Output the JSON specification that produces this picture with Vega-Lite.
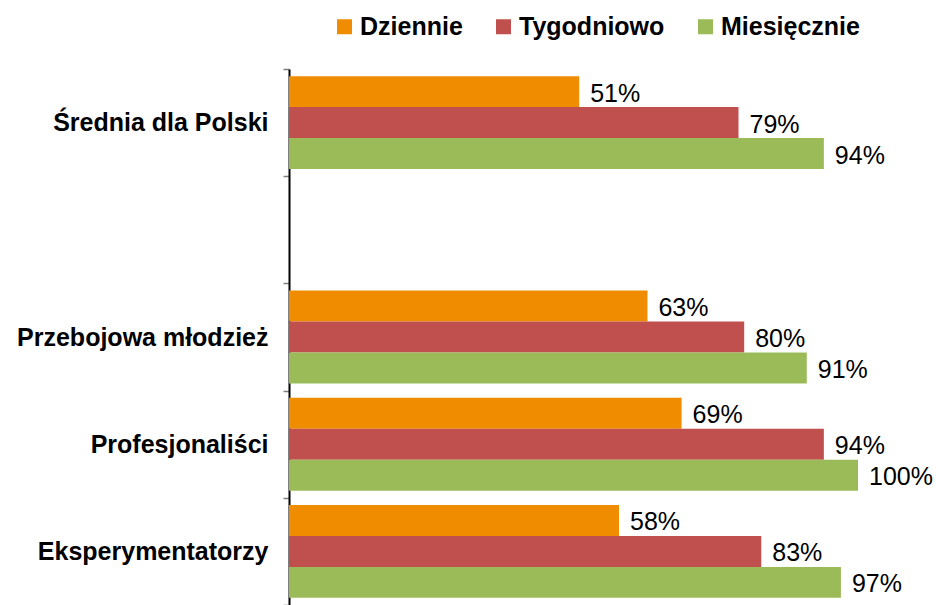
{
  "$schema": "https://vega.github.io/schema/vega-lite/v6.json",
  "autosize": "none",
  "width": 569,
  "height": 536,
  "padding": {"left": 289, "top": 69, "right": 78, "bottom": 0},
  "background": "white",
  "data": {
    "values": [
      {"group": "Średnia dla Polski", "series": "Dziennie", "value": 0.51},
      {"group": "Średnia dla Polski", "series": "Tygodniowo", "value": 0.79},
      {"group": "Średnia dla Polski", "series": "Miesięcznie", "value": 0.94},
      {"group": "Przebojowa młodzież", "series": "Dziennie", "value": 0.63},
      {"group": "Przebojowa młodzież", "series": "Tygodniowo", "value": 0.80},
      {"group": "Przebojowa młodzież", "series": "Miesięcznie", "value": 0.91},
      {"group": "Profesjonaliści", "series": "Dziennie", "value": 0.69},
      {"group": "Profesjonaliści", "series": "Tygodniowo", "value": 0.94},
      {"group": "Profesjonaliści", "series": "Miesięcznie", "value": 1.00},
      {"group": "Eksperymentatorzy", "series": "Dziennie", "value": 0.58},
      {"group": "Eksperymentatorzy", "series": "Tygodniowo", "value": 0.83},
      {"group": "Eksperymentatorzy", "series": "Miesięcznie", "value": 0.97}
    ]
  },
  "encoding": {
    "y": {
      "field": "group",
      "type": "nominal",
      "scale": {
        "domain": ["Średnia dla Polski", " ", "Przebojowa młodzież", "Profesjonaliści", "Eksperymentatorzy"],
        "paddingInner": 0,
        "paddingOuter": 0
      },
      "axis": {
        "title": null,
        "labelFont": "Liberation Sans",
        "labelFontWeight": "bold",
        "labelFontSize": 25,
        "labelColor": "black",
        "labelPadding": 15,
        "labelLimit": 400,
        "tickBand": "extent",
        "tickSize": 6,
        "tickColor": "#7f7f7f",
        "tickWidth": 1.5,
        "domainColor": "black",
        "domainWidth": 2
      }
    },
    "yOffset": {
      "field": "series",
      "type": "nominal",
      "scale": {
        "domain": ["Dziennie", "Tygodniowo", "Miesięcznie"],
        "paddingInner": 0,
        "paddingOuter": 0.23
      }
    },
    "x": {
      "field": "value",
      "type": "quantitative",
      "scale": {"domain": [0, 1], "nice": false},
      "axis": null
    }
  },
  "layer": [
    {
      "mark": {"type": "bar"},
      "encoding": {
        "color": {
          "field": "series",
          "type": "nominal",
          "scale": {
            "domain": ["Dziennie", "Tygodniowo", "Miesięcznie"],
            "range": ["#F08C00", "#C0504D", "#9BBB59"]
          },
          "legend": {
            "title": null,
            "orient": "none",
            "direction": "horizontal",
            "legendX": 43,
            "legendY": -55,
            "symbolType": "square",
            "symbolSize": 225,
            "symbolStrokeWidth": 0,
            "symbolOpacity": 1,
            "labelFont": "Liberation Sans",
            "labelFontWeight": "bold",
            "labelFontSize": 25,
            "labelColor": "black",
            "labelOffset": 3,
            "columnPadding": 28,
            "labelLimit": 400
          }
        }
      }
    },
    {
      "mark": {
        "type": "text",
        "align": "left",
        "baseline": "middle",
        "dx": 11,
        "dy": 2,
        "font": "Liberation Sans",
        "fontSize": 25,
        "color": "black"
      },
      "encoding": {
        "text": {"field": "value", "type": "quantitative", "format": ".0%"}
      }
    }
  ],
  "config": {"view": {"stroke": null}}
}
